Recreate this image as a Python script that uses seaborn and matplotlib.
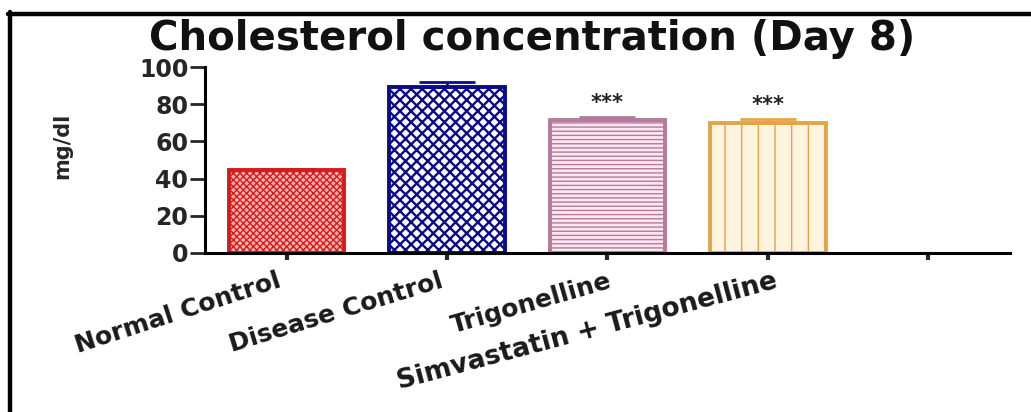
import numpy as np
import pandas as pd
import matplotlib
matplotlib.use("Agg")
import matplotlib.pyplot as plt
import matplotlib.transforms as mtransforms
from matplotlib.lines import Line2D
import seaborn as sns

# data
groups = ["Normal Control", "Disease Control", "Trigonelline", "Simvastatin + Trigonelline"]
order = groups + [" "]
means = [44.5, 89.2, 71.5, 70.0]
errors = [0.8, 2.8, 1.6, 2.2]
signif = ["", "", "***", "***"]

edge_cols = ["#d41c1c", "#0b0b8a", "#b67a9c", "#e6a24a"]
face_cols = ["#f7b3b3", "#ffffff", "#fce8f0", "#fff4de"]
hatches = ["xxxxx", "xxx", "----", "|"]

df = pd.DataFrame({"group": groups, "value": means})

sns.set_theme(style="ticks")
plt.rcParams["font.family"] = ["DejaVu Sans"]
plt.rcParams["hatch.linewidth"] = 1.0

fig = plt.figure(figsize=(10.31, 4.12), dpi=100)
ax = fig.add_axes([0.1988, 0.386, 0.7808, 0.451])

sns.barplot(data=df, x="group", y="value", order=order, ax=ax,
            width=0.72, errorbar=None, color="white")

for i, bar in enumerate(ax.patches[:len(groups)]):
    bar.set_facecolor(face_cols[i])
    bar.set_edgecolor(edge_cols[i])
    bar.set_linewidth(2.8)
    bar.set_hatch(hatches[i])
    if hasattr(bar, "set_hatch_linewidth"):
        bar.set_hatch_linewidth(1.7 if i == 1 else 1.0)

# one-sided error bars (upper only)
for i in range(len(groups)):
    ax.errorbar(i, means[i], yerr=[[0], [errors[i]]], fmt="none",
                ecolor=edge_cols[i], elinewidth=2, capsize=20, capthick=2, zorder=3)
    if signif[i]:
        ax.text(i, means[i] + errors[i] + 7.5, signif[i], ha="center", va="center",
                fontsize=15, fontweight="bold", color="#222222")

ax.set_ylim(0, 100)
ax.set_xlim(-0.51, 4.51)
ax.set_yticks([0, 20, 40, 60, 80, 100])
ax.set_xlabel("")
ax.set_ylabel("")
sns.despine(ax=ax)
for s in ["left", "bottom"]:
    ax.spines[s].set_linewidth(2.2)
    ax.spines[s].set_color("black")
ax.tick_params(axis="y", length=11, width=2, labelsize=17, pad=1)
ax.tick_params(axis="x", length=5, width=3, labelsize=17, pad=2)
for lab in ax.get_yticklabels():
    lab.set_fontweight("bold")

# rotated x labels, ending under their ticks
rots = [18, 17, 16, 15]
sizes = [18, 18, 18, 19]
shifts = [-10, -8, 0, 6]
ax.set_xticks(range(len(order)))
ax.set_xticklabels(order)
for i, lab in enumerate(ax.get_xticklabels()):
    lab.set_ha("right")
    lab.set_rotation_mode("anchor")
    lab.set_fontweight("bold")
    lab.set_color("#1a1a1a")
    if i < len(shifts):
        lab.set_rotation(rots[i])
        lab.set_fontsize(sizes[i])
        off = mtransforms.ScaledTranslation(shifts[i] / 100, -6 / 100, fig.dpi_scale_trans)
        lab.set_transform(lab.get_transform() + off)

fig.text(0.516, 0.905, "Cholesterol concentration (Day 8)", ha="center", va="center",
         fontsize=29, fontweight="bold", color="#111111")
fig.text(0.06, 0.646, "mg/dl", rotation=90, ha="center", va="center",
         fontsize=15, fontweight="bold")

# black frame on top and left of the picture
fig.add_artist(Line2D([8 / 1031, 1], [1 - 13.5 / 412, 1 - 13.5 / 412],
                      transform=fig.transFigure, color="black", lw=3.2))
fig.add_artist(Line2D([10 / 1031, 10 / 1031], [0, 1 - 12 / 412],
                      transform=fig.transFigure, color="black", lw=3.2))

fig.savefig("out.png", dpi=100, facecolor="white")
